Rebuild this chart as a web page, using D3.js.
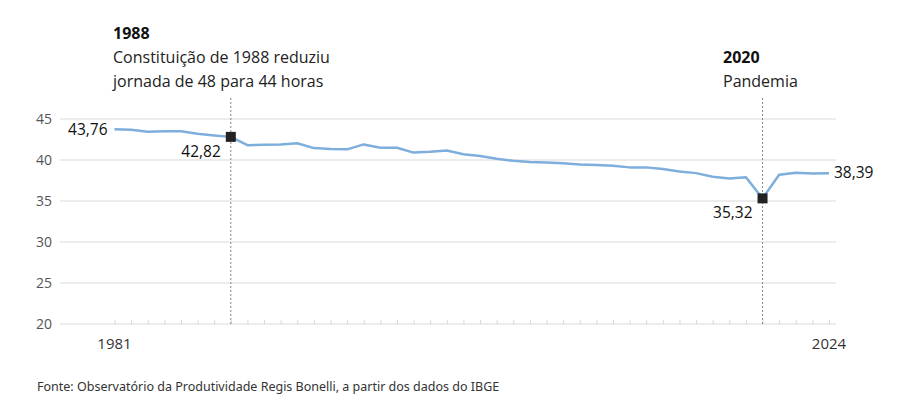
<!DOCTYPE html>
<html><head><meta charset="utf-8">
<script src="https://cdn.jsdelivr.net/npm/d3@7"></script>
<style>body{margin:0;background:#fff}svg{display:block}</style>
</head><body>
<svg id="c" width="922" height="409"></svg>
<script>
const years = d3.range(1981, 2025);
const hours = [43.76,43.7,43.45,43.5,43.5,43.2,43.0,42.82,41.8,41.85,41.9,42.05,41.45,41.35,41.3,41.9,41.5,41.5,40.9,41.0,41.15,40.7,40.5,40.15,39.9,39.75,39.7,39.6,39.45,39.4,39.3,39.1,39.1,38.9,38.6,38.4,37.95,37.75,37.9,35.32,38.2,38.45,38.35,38.39];
const yTicks = [20,25,30,35,40,45];
const xLabels = [1981, 2024];
const events = [
  {year:1988, title:"1988", lines:["Constituição de 1988 reduziu","jornada de 48 para 44 horas"]},
  {year:2020, title:"2020", lines:["Pandemia"]}
];
const valueLabels = [
  {year:1981, text:"43,76", pos:"left"},
  {year:1988, text:"42,82", pos:"belowleft"},
  {year:2020, text:"35,32", pos:"belowleft"},
  {year:2024, text:"38,39", pos:"right"}
];
const markers = [1988, 2020];
const source = "Fonte: Observatório da Produtividade Regis Bonelli, a partir dos dados do IBGE";

const svg = d3.select("#c");
const font = "'Open Sans', 'Noto Sans', sans-serif";
const x = d3.scaleLinear().domain([1981, 2024]).range([114.5, 829]);
const y = d3.scaleLinear().domain([20, 45]).range([324, 119]);
const gridX0 = 60, gridX1 = 836;

// y axis labels and gridlines
const yAxis = d3.axisLeft(y).tickValues(yTicks).tickSize(0).tickPadding(8);
const gy = svg.append("g").attr("transform", `translate(${gridX0},0)`).call(yAxis);
gy.select(".domain").remove();
gy.selectAll("text").attr("font-family", font).attr("font-size", 14).attr("fill", "#555");
svg.append("g").selectAll("line").data(yTicks).join("line")
  .attr("x1", gridX0).attr("x2", gridX1)
  .attr("y1", d => y(d)).attr("y2", d => y(d))
  .attr("stroke", "#e6e6e6").attr("stroke-width", 1.5);

// x axis ticks
const xAxis = d3.axisTop(x).tickValues(years).tickSize(4).tickFormat("");
const gx = svg.append("g").attr("transform", `translate(0,${y(20)})`).call(xAxis);
gx.select(".domain").remove();
gx.selectAll("line").attr("stroke", "#d8d8d8");
svg.append("g").selectAll("text").data(xLabels).join("text")
  .attr("x", d => x(d)).attr("y", 349).attr("text-anchor", "middle")
  .attr("font-family", font).attr("font-size", 15).attr("fill", "#333")
  .text(d => d);

// event lines
events.forEach(e => {
  svg.append("line").attr("x1", x(e.year)).attr("x2", x(e.year))
    .attr("y1", 98).attr("y2", y(20))
    .attr("stroke", "#888").attr("stroke-width", 1).attr("stroke-dasharray", "2,2");
});

// line
const data = years.map((yr, i) => ({yr, v: hours[i]}));
svg.append("path").datum(data)
  .attr("fill", "none").attr("stroke", "#7eaedb").attr("stroke-width", 2.5)
  .attr("stroke-linejoin", "round")
  .attr("d", d3.line().x(d => x(d.yr)).y(d => y(d.v)));

// markers
svg.append("g").selectAll("rect").data(markers).join("rect")
  .attr("x", d => x(d) - 5).attr("y", d => y(hours[years.indexOf(d)]) - 5)
  .attr("width", 10).attr("height", 10).attr("fill", "#222");

// value labels
valueLabels.forEach(l => {
  const v = hours[years.indexOf(l.year)];
  const t = svg.append("text").attr("font-family", font).attr("font-size", 15.5).attr("fill", "#111").text(l.text);
  if (l.pos === "left") t.attr("x", x(l.year) - 7).attr("y", y(v) + 6).attr("text-anchor", "end");
  if (l.pos === "right") t.attr("x", x(l.year) + 5).attr("y", y(v) + 5).attr("text-anchor", "start");
  if (l.pos === "belowleft") t.attr("x", x(l.year) - 10).attr("y", y(v) + 20).attr("text-anchor", "end");
});

// event annotations
events.forEach((e, i) => {
  const tx = i === 0 ? 113 : 723;
  const ty0 = i === 0 ? 39 : 63;
  svg.append("text").attr("x", tx).attr("y", ty0).attr("font-family", font)
    .attr("font-size", 16).attr("font-weight", "bold").attr("fill", "#111").text(e.title);
  e.lines.forEach((ln, j) => {
    svg.append("text").attr("x", tx).attr("y", ty0 + 24 * (j + 1)).attr("font-family", font)
      .attr("font-size", 16).attr("fill", "#222").text(ln);
  });
});

svg.append("text").attr("x", 37).attr("y", 391).attr("font-family", "'Noto Sans', sans-serif")
  .attr("font-size", 12.5).attr("fill", "#333").text(source);
</script>
</body></html>
